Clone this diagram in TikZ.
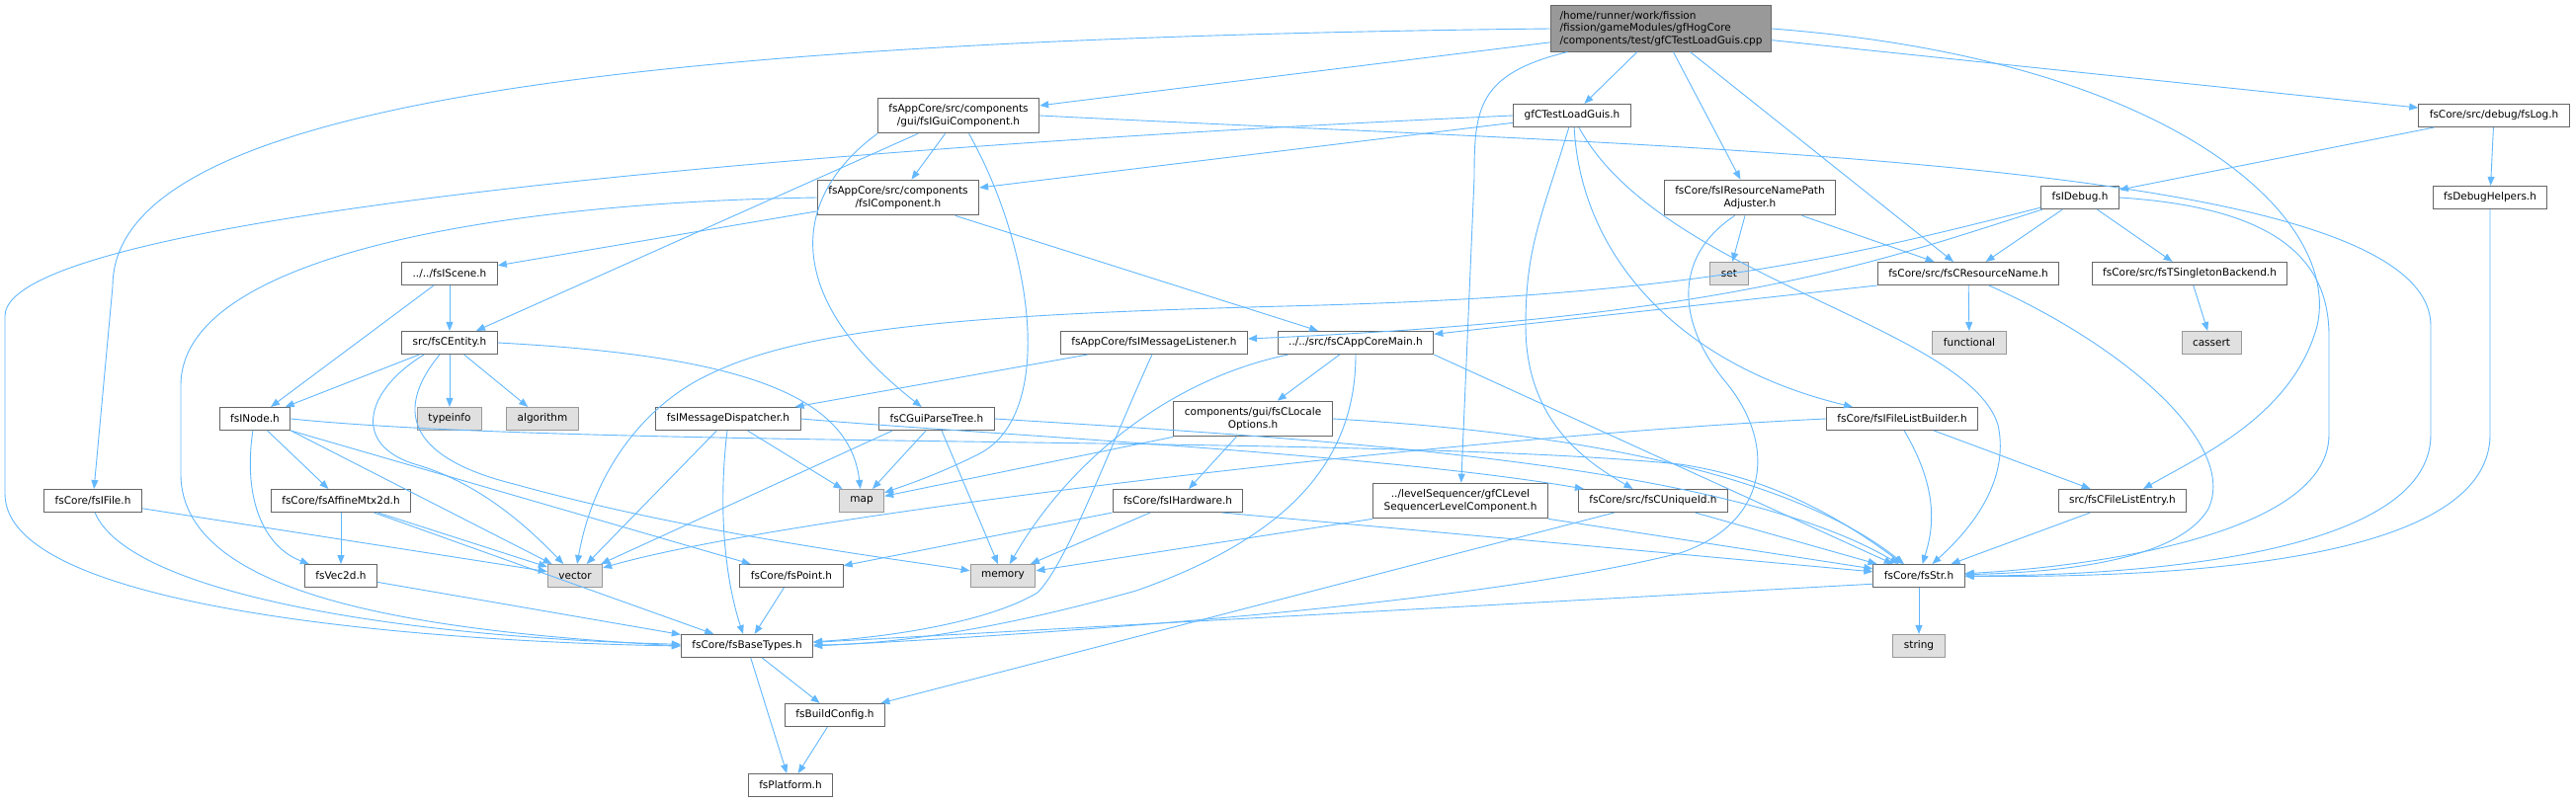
\documentclass[tikz,border=0pt]{standalone}
\usepackage{fontspec}
\setmainfont{DejaVu Sans}
\usetikzlibrary{arrows.meta}
\definecolor{edgec}{HTML}{63B8FF}
\definecolor{boxline}{HTML}{666666}
\definecolor{grayfill}{HTML}{E0E0E0}
\definecolor{grayline}{HTML}{999999}
\definecolor{mainfill}{HTML}{999999}
\begin{document}
\begin{tikzpicture}[x=1pt,y=-1pt,
  box/.style={draw=boxline, fill=white, line width=1pt, font=\fontsize{10.5}{12.5}\selectfont, inner xsep=11pt, inner ysep=6.5pt, minimum height=23pt, align=center},
  sysbox/.style={box, fill=grayfill, draw=grayline},
  mainbox/.style={box, fill=mainfill, draw=boxline, align=left, inner xsep=9pt, inner ysep=5.5pt},
  edge/.style={draw=edgec, line width=0.9pt, -{Triangle[length=9pt,width=7pt]}}]
\fill[white] (0,0) rectangle (2607,812);
\useasboundingbox (0,0) rectangle (2607,812);

% ---------- nodes ----------
\node[mainbox] (main) at (1681,29) {/home/runner/work/fission\\/fission/gameModules/gfHogCore\\/components/test/gfCTestLoadGuis.cpp};
\node[box] (guicomp) at (970,117) {fsAppCore/src/components\\/gui/fsIGuiComponent.h};
\node[box] (gfct) at (1591,117) {gfCTestLoadGuis.h};
\node[box] (fslog) at (2524,117) {fsCore/src/debug/fsLog.h};
\node[box] (icomp) at (909,200) {fsAppCore/src/components\\/fsIComponent.h};
\node[box] (adjuster) at (1771,200) {fsCore/fsIResourceNamePath\\Adjuster.h};
\node[box] (idebug) at (2105,200) {fsIDebug.h};
\node[box] (dbghelp) at (2520,200) {fsDebugHelpers.h};
\node[box] (iscene) at (455,277) {../../fsIScene.h};
\node[sysbox] (set) at (1750,277) {set};
\node[box] (resname) at (1992,277) {fsCore/src/fsCResourceName.h};
\node[box] (singleton) at (2216,277) {fsCore/src/fsTSingletonBackend.h};
\node[box] (centity) at (455,347) {src/fsCEntity.h};
\node[box] (msglist) at (1168,347) {fsAppCore/fsIMessageListener.h};
\node[box] (appmain) at (1372,347) {../../src/fsCAppCoreMain.h};
\node[sysbox] (functional) at (1993,347) {functional};
\node[sysbox] (cassert) at (2238,347) {cassert};
\node[box] (inode) at (258,424) {fsINode.h};
\node[sysbox] (typeinfo) at (455,424) {typeinfo};
\node[sysbox] (algorithm) at (549,424) {algorithm};
\node[box] (msgdisp) at (737,424) {fsIMessageDispatcher.h};
\node[box] (parsetree) at (948,424) {fsCGuiParseTree.h};
\node[box] (locale) at (1268,424) {components/gui/fsCLocale\\Options.h};
\node[box] (filelistb) at (1925,424) {fsCore/fsIFileListBuilder.h};
\node[box] (ifile) at (94,507) {fsCore/fsIFile.h};
\node[box] (affine) at (345,507) {fsCore/fsAffineMtx2d.h};
\node[sysbox] (map) at (872,507) {map};
\node[box] (hardware) at (1192,507) {fsCore/fsIHardware.h};
\node[box] (levelseq) at (1478,507) {../levelSequencer/gfCLevel\\SequencerLevelComponent.h};
\node[box] (uniqueid) at (1673,507) {fsCore/src/fsCUniqueId.h};
\node[box] (fileentry) at (2148,507) {src/fsCFileListEntry.h};
\node[box] (vec2d) at (345,583) {fsVec2d.h};
\node[sysbox] (vector) at (582,583) {vector};
\node[box] (point) at (801,583) {fsCore/fsPoint.h};
\node[sysbox] (memory) at (1015,583) {memory};
\node[box] (fsstr) at (1942,583) {fsCore/fsStr.h};
\node[box] (basetypes) at (756,654) {fsCore/fsBaseTypes.h};
\node[sysbox] (string) at (1942,654) {string};
\node[box] (buildconfig) at (845,724) {fsBuildConfig.h};
\node[box] (platform) at (800,795) {fsPlatform.h};

% ---------- edges ----------
% main
\draw[edge] (main.west) .. controls (600,40) and (114,110) .. (114,290) -- (ifile);
\draw[edge] (main) -- (guicomp);
\draw[edge] (main) -- (gfct);
\draw[edge] (main.-166) .. controls (1495,75) and (1492,110) .. (1492,180) -- (levelseq);
\draw[edge] (main) -- (adjuster);
\draw[edge] (main) -- (resname);
\draw[edge] (main.east) .. controls (2200,60) and (2370,220) .. (2345,330) .. controls (2320,420) and (2230,460) .. (fileentry);
\draw[edge] (main) -- (fslog);
% gfct
\draw[edge] (gfct) -- (icomp);
\draw[edge] (gfct.west) .. controls (800,150) and (5,220) .. (5,320) -- (5,500) .. controls (5,620) and (450,650) .. (basetypes.west);
\draw[edge] (gfct.-105) .. controls (1560,220) and (1544,250) .. (1544,330) .. controls (1544,430) and (1610,470) .. (uniqueid);
\draw[edge] (gfct.-80) .. controls (1600,260) and (1700,370) .. (filelistb);
\draw[edge] (gfct.-60) .. controls (1680,280) and (1990,330) .. (2022,430) .. controls (2035,490) and (1990,540) .. (fsstr);
% guicomp
\draw[edge] (guicomp) -- (icomp);
\draw[edge] (guicomp) -- (centity);
\draw[edge] (guicomp.south west) .. controls (800,200) and (790,300) .. (parsetree);
\draw[edge] (guicomp.-60) .. controls (1045,250) and (1070,420) .. (990,460) .. controls (950,480) and (920,490) .. (map);
\draw[edge] (guicomp.east) .. controls (1700,150) and (2460,160) .. (2460,330) -- (2460,440) .. controls (2460,565) and (2150,583) .. (fsstr);
% icomp
\draw[edge] (icomp) -- (iscene);
\draw[edge] (icomp) -- (appmain);
\draw[edge] (icomp.west) .. controls (500,205) and (183,260) .. (183,390) -- (183,480) .. controls (183,610) and (450,640) .. (basetypes.west);
% adjuster
\draw[edge] (adjuster) -- (set);
\draw[edge] (adjuster) -- (resname);
\draw[edge] (adjuster.-130) .. controls (1690,262) and (1700,330) .. (1745,385) .. controls (1800,450) and (1790,530) .. (1700,560) .. controls (1500,610) and (1100,640) .. (basetypes.east);
% idebug
\draw[edge] (idebug) -- (resname);
\draw[edge] (idebug) -- (singleton);
\draw[edge] (idebug.east) .. controls (2300,210) and (2357,260) .. (2357,340) -- (2357,440) .. controls (2357,545) and (2100,575) .. (fsstr);
\draw[edge] (idebug) .. controls (1900,265) and (1750,322) .. (msglist);
\draw[edge] (idebug) .. controls (1850,265) and (1700,300) .. (1300,310) .. controls (1000,318) and (820,330) .. (720,378) .. controls (650,410) and (600,480) .. (vector);
% resname
\draw[edge] (resname) -- (functional);
\draw[edge] (resname.south west) -- (appmain);
\draw[edge] (resname.-30) .. controls (2150,350) and (2265,450) .. (2235,515) .. controls (2200,575) and (2050,580) .. (fsstr);
% singleton, fslog, dbghelp
\draw[edge] (singleton) -- (cassert);
\draw[edge] (fslog) -- (idebug);
\draw[edge] (fslog) -- (dbghelp);
\draw[edge] (dbghelp) -- (2520,440) .. controls (2520,570) and (2200,585) .. (fsstr);
% centity
\draw[edge] (centity) -- (inode);
\draw[edge] (centity) -- (typeinfo);
\draw[edge] (centity) -- (algorithm);
\draw[edge] (centity.-155) .. controls (370,395) and (355,450) .. (420,470) .. controls (490,490) and (540,540) .. (vector);
\draw[edge] (centity.-130) .. controls (395,420) and (420,465) .. (520,490) .. controls (700,540) and (900,565) .. (memory);
\draw[edge] (centity.east) .. controls (750,360) and (860,400) .. (map);
% iscene
\draw[edge] (iscene) -- (centity);
\draw[edge] (iscene) -- (inode);
% inode
\draw[edge] (inode) -- (affine);
\draw[edge] (inode.-100) .. controls (245,510) and (270,555) .. (vec2d);
\draw[edge] (inode.south east) -- (vector);
\draw[edge] (inode.south east) -- (point);
\draw[edge] (inode.east) .. controls (600,455) and (1400,440) .. (1700,470) .. controls (1800,485) and (1870,530) .. (fsstr);
% affine
\draw[edge] (affine) -- (vec2d);
\draw[edge] (affine) -- (vector);
\draw[edge] (affine) -- (basetypes);
% vec2d, ifile, point
\draw[edge] (vec2d) -- (basetypes);
\draw[edge] (ifile) -- (vector);
\draw[edge] (ifile.-80) .. controls (130,600) and (400,645) .. (basetypes);
\draw[edge] (point) -- (basetypes);
% msgdisp
\draw[edge] (msgdisp) -- (vector);
\draw[edge] (msgdisp) -- (map);
\draw[edge] (msgdisp.-95) .. controls (726,520) and (735,590) .. (basetypes);
\draw[edge] (msgdisp.east) .. controls (1000,440) and (1400,460) .. (uniqueid);
% msglist
\draw[edge] (msglist) -- (msgdisp);
\draw[edge] (msglist.-100) .. controls (1120,460) and (1080,570) .. (1050,600) .. controls (1000,630) and (900,645) .. (basetypes);
% appmain
\draw[edge] (appmain) -- (locale);
\draw[edge] (appmain.-170) .. controls (1180,385) and (1080,470) .. (memory);
\draw[edge] (appmain.-90) .. controls (1372,470) and (1300,545) .. (1150,598) .. controls (1000,640) and (900,652) .. (basetypes);
\draw[edge] (appmain.south east) -- (fsstr);
% parsetree
\draw[edge] (parsetree) -- (map);
\draw[edge] (parsetree.-165) -- (vector);
\draw[edge] (parsetree) -- (memory);
\draw[edge] (parsetree.east) .. controls (1350,445) and (1750,470) .. (fsstr);
% locale
\draw[edge] (locale) -- (hardware);
\draw[edge] (locale.south west) -- (map);
\draw[edge] (locale.east) .. controls (1550,435) and (1800,470) .. (fsstr);
% hardware
\draw[edge] (hardware) -- (memory);
\draw[edge] (hardware.south west) -- (point);
\draw[edge] (hardware.-15) -- (fsstr);
% levelseq
\draw[edge] (levelseq.south west) -- (memory);
\draw[edge] (levelseq.south east) -- (fsstr);
% uniqueid
\draw[edge] (uniqueid) -- (fsstr);
\draw[edge] (uniqueid.-163) -- (buildconfig);
% filelistb
\draw[edge] (filelistb.west) .. controls (1500,440) and (800,520) .. (vector);
\draw[edge] (filelistb.-80) .. controls (1965,500) and (1955,540) .. (fsstr);
\draw[edge] (filelistb) -- (fileentry);
% fileentry
\draw[edge] (fileentry) -- (fsstr);
% fsstr
\draw[edge] (fsstr) -- (string);
\draw[edge] (fsstr.-170) -- (basetypes);
% basetypes
\draw[edge] (basetypes) -- (buildconfig);
\draw[edge] (basetypes) -- (platform);
\draw[edge] (buildconfig) -- (platform);
\end{tikzpicture}
\end{document}
